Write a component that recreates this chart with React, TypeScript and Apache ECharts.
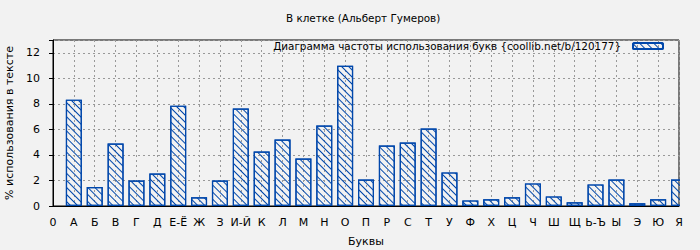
import React, { useEffect, useRef } from "react";
import * as echarts from "echarts";

const categories = ["А","Б","В","Г","Д","Е-Ё","Ж","З","И-Й","К","Л","М","Н","О","П","Р","С","Т","У","Ф","Х","Ц","Ч","Ш","Щ","Ь-Ъ","Ы","Э","Ю","Я"];
const values = [8.33,1.48,4.89,2.0,2.55,7.86,0.68,2.0,7.63,4.27,5.21,3.72,6.3,10.98,2.08,4.74,4.97,6.06,2.63,0.44,0.52,0.68,1.77,0.75,0.29,1.69,2.08,0.21,0.52,2.08];
const yTicks = [0, 2, 4, 6, 8, 10, 12];
const titleText = "В клетке (Альберт Гумеров)";
const seriesName = "Диаграмма частоты использования букв {coollib.net/b/120177}";

const FONT = "DejaVu Sans";
const BLUE = "#0047ab";
const BG = "#f2f2f2";

export default function App() {
  const ref = useRef<HTMLDivElement>(null);
  useEffect(() => {
    if (!ref.current) return;
    const chart = echarts.init(ref.current, null, { renderer: "svg" });
    const data = values.map((v, i) => [i + 1, v]);
    chart.setOption({
      animation: false,
      backgroundColor: BG,
      textStyle: { fontFamily: FONT },
      title: {
        text: titleText,
        left: 281,
        top: 8,
        textStyle: { fontFamily: FONT, fontSize: 10.4, fontWeight: "normal", color: "#000" },
      },
      legend: {
        right: 31,
        top: 36,
        align: "right",
        itemWidth: 30,
        itemHeight: 6,
        textStyle: { fontFamily: FONT, fontSize: 10.4, color: "#000", padding: [0, 7, 0, 0] },
        data: [seriesName],
      },
      grid: {
        left: 53,
        right: 21,
        top: 40,
        bottom: 44,
        show: true,
        borderColor: "#000",
        borderWidth: 1,
        backgroundColor: "transparent",
        containLabel: false,
        outerBoundsMode: "none",
      },
      graphic: [
        {
          type: "rect",
          z: 100,
          silent: true,
          shape: { x: 680, y: 38, width: 20, height: 168 },
          style: { fill: BG },
        },
      ],
      xAxis: {
        type: "value",
        min: 0,
        max: 30,
        interval: 1,
        name: "Буквы",
        nameLocation: "middle",
        nameGap: 30,
        nameTextStyle: { fontFamily: FONT, fontSize: 11, color: "#000" },
        axisLine: { lineStyle: { color: "#000" } },
        axisTick: { show: false },
        axisLabel: {
          fontFamily: FONT,
          fontSize: 11,
          color: "#000",
          margin: 11,
          formatter: (v: number) => (v === 0 ? "0" : categories[Math.round(v) - 1] ?? ""),
        },
        splitLine: { show: true, lineStyle: { color: "#999", type: [2, 3] } },
      },
      yAxis: {
        type: "value",
        min: 0,
        max: 13,
        interval: 2,
        name: "% использования в тексте",
        nameLocation: "middle",
        nameGap: 38,
        nameTextStyle: { fontFamily: FONT, fontSize: 11, color: "#000" },
        axisLine: { show: true, lineStyle: { color: "#000" } },
        axisTick: { show: true, length: 4, lineStyle: { color: "#000" } },
        axisLabel: {
          fontFamily: FONT,
          fontSize: 11,
          color: "#000",
          margin: 13,
          formatter: (v: number) => (yTicks.indexOf(v) >= 0 ? String(v) : ""),
        },
        splitLine: { show: true, lineStyle: { color: "#999", type: [2, 3] } },
      },
      series: [
        {
          name: seriesName,
          type: "bar",
          data,
          barWidth: 16,
          itemStyle: {
            color: "rgba(0,0,0,0)",
            borderColor: BLUE,
            borderWidth: 1.2,
            decal: {
              symbol: "rect",
              symbolSize: 1,
              color: BLUE,
              backgroundColor: "rgba(0,0,0,0)",
              dashArrayX: [1, 0],
              dashArrayY: [1, 3.3],
              rotation: Math.PI / 4,
            },
          },
        },
      ],
    });
    return () => chart.dispose();
  }, []);
  return <div ref={ref} style={{ width: 700, height: 250, position: "absolute", left: 0, top: 0 }} />;
}
